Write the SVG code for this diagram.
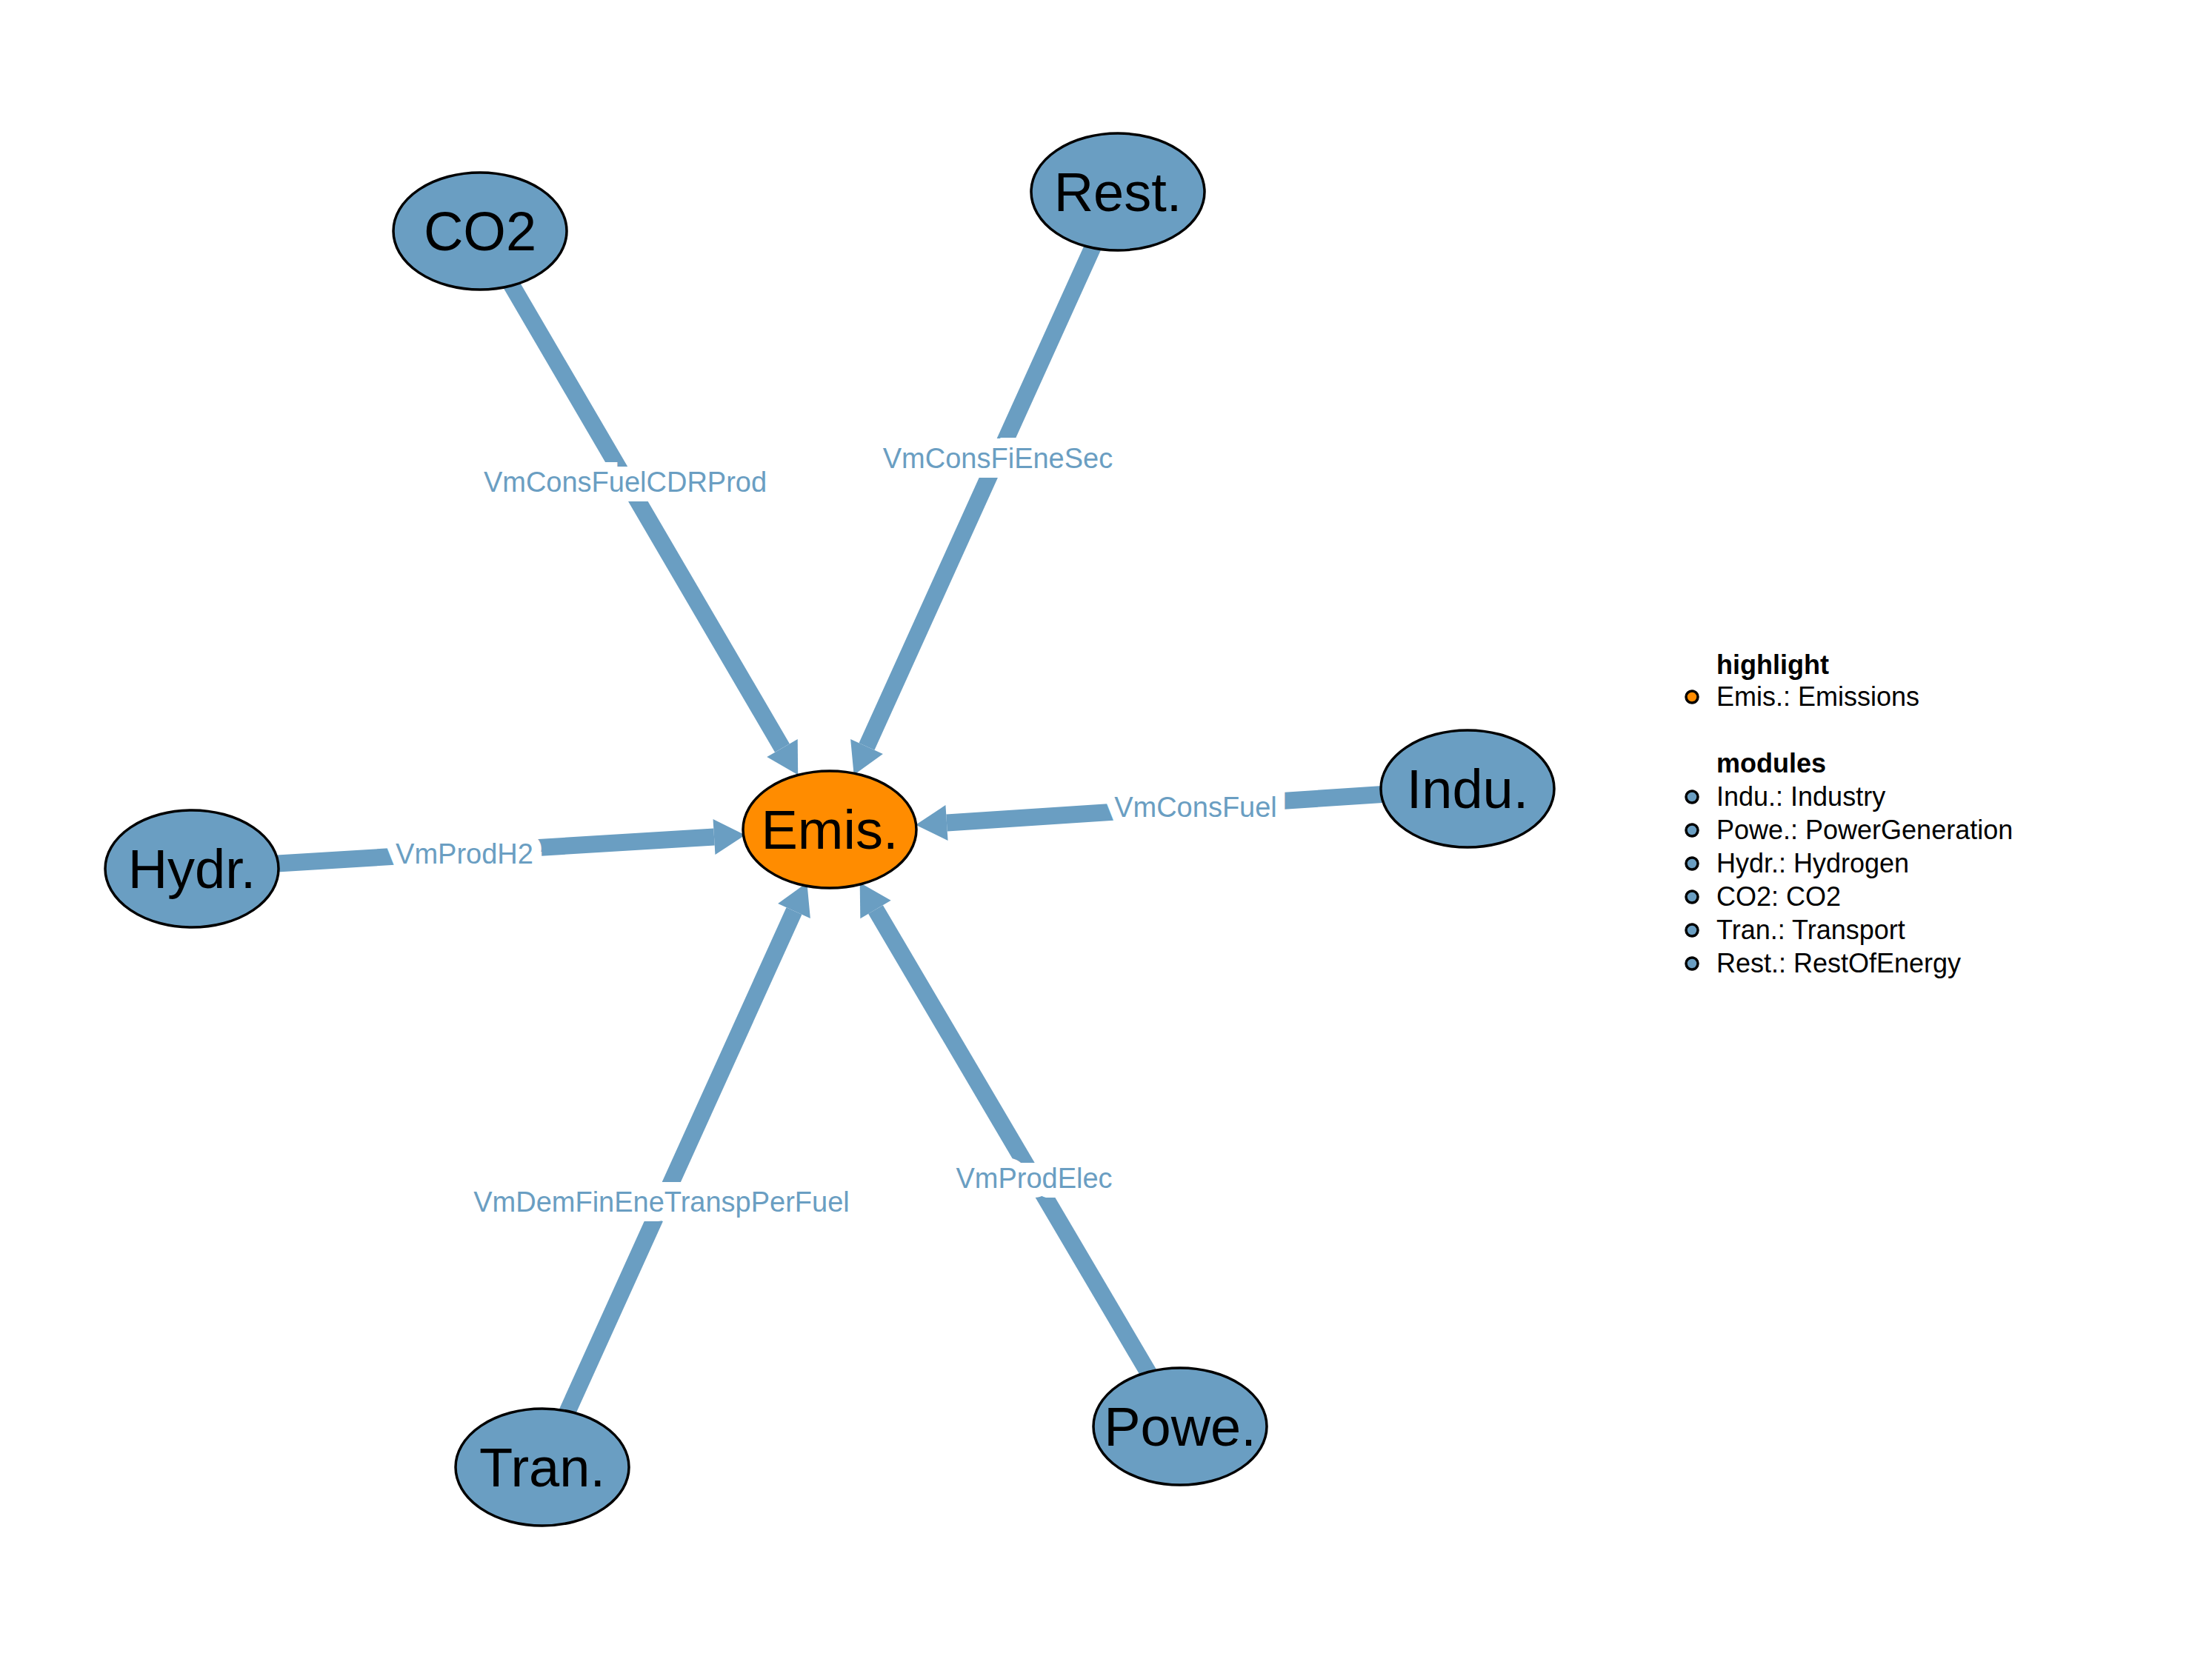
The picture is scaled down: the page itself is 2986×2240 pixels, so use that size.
<svg xmlns="http://www.w3.org/2000/svg" width="2986" height="2240" viewBox="0 0 2986 2240">
<style>
.e{stroke:#6a9ec2;stroke-width:23;fill:none;marker-end:url(#ah)}
.el{font-family:"Liberation Sans",Arial,sans-serif;font-size:38px;fill:#6a9ec2;text-anchor:middle;stroke:#fff;stroke-width:26px;paint-order:stroke}
.n{fill:#6a9ec2;stroke:#000;stroke-width:3.5}
.h{fill:#ff8c00;stroke:#000;stroke-width:3.5}
.nt{font-family:"Liberation Sans",Arial,sans-serif;font-size:74px;fill:#000;text-anchor:middle}
.lg{font-family:"Liberation Sans",Arial,sans-serif;font-size:36px;fill:#000}
.lb{font-weight:bold}
.d{stroke:#000;stroke-width:3.5}
</style>
<defs>
<marker id="ah" markerUnits="userSpaceOnUse" markerWidth="42" markerHeight="50" refX="0" refY="24" orient="auto" overflow="visible">
<path d="M0,0 L42,24 L0,48 z" fill="#6a9ec2"/>
</marker>
</defs>
<rect width="2986" height="2240" fill="#fff"/>
<g id="connectors">
<line class="e" x1="648" y1="312" x2="1056" y2="1010"/>
<line class="e" x1="1509" y1="259" x2="1170" y2="1008"/>
<line class="e" x1="1981" y1="1065" x2="1278" y2="1111"/>
<line class="e" x1="259" y1="1173" x2="964" y2="1130"/>
<line class="e" x1="732" y1="1981" x2="1072" y2="1230"/>
<line class="e" x1="1593" y1="1926" x2="1182" y2="1228"/>
<text class="el" x="844" y="664">VmConsFuelCDRProd</text>
<text class="el" x="1347" y="632">VmConsFiEneSec</text>
<text class="el" x="1614" y="1103">VmConsFuel</text>
<text class="el" x="627" y="1166">VmProdH2</text>
<text class="el" x="893" y="1636">VmDemFinEneTranspPerFuel</text>
<text class="el" x="1396" y="1604">VmProdElec</text>
</g>
<g id="node-emis"><ellipse class="h" cx="1120" cy="1120" rx="117" ry="79"/><text class="nt" x="1120" y="1146">Emis.</text></g>
<g id="node-co2"><ellipse class="n" cx="648" cy="312" rx="117" ry="79"/><text class="nt" x="648" y="338">CO2</text></g>
<g id="node-rest"><ellipse class="n" cx="1509" cy="259" rx="117" ry="79"/><text class="nt" x="1509" y="285">Rest.</text></g>
<g id="node-indu"><ellipse class="n" cx="1981" cy="1065" rx="117" ry="79"/><text class="nt" x="1981" y="1091">Indu.</text></g>
<g id="node-hydr"><ellipse class="n" cx="259" cy="1173" rx="117" ry="79"/><text class="nt" x="259" y="1199">Hydr.</text></g>
<g id="node-tran"><ellipse class="n" cx="732" cy="1981" rx="117" ry="79"/><text class="nt" x="732" y="2007">Tran.</text></g>
<g id="node-powe"><ellipse class="n" cx="1593" cy="1926" rx="117" ry="79"/><text class="nt" x="1593" y="1952">Powe.</text></g>
<g id="legend">
<text class="lg lb" x="2317" y="910">highlight</text>
<circle class="d" cx="2284" cy="941" r="8" fill="#ff8c00"/><text class="lg" x="2317" y="953">Emis.: Emissions</text>
<text class="lg lb" x="2317" y="1043">modules</text>
<circle class="d" cx="2284" cy="1076" r="8" fill="#6a9ec2"/><text class="lg" x="2317" y="1088">Indu.: Industry</text>
<circle class="d" cx="2284" cy="1121" r="8" fill="#6a9ec2"/><text class="lg" x="2317" y="1133">Powe.: PowerGeneration</text>
<circle class="d" cx="2284" cy="1166" r="8" fill="#6a9ec2"/><text class="lg" x="2317" y="1178">Hydr.: Hydrogen</text>
<circle class="d" cx="2284" cy="1211" r="8" fill="#6a9ec2"/><text class="lg" x="2317" y="1223">CO2: CO2</text>
<circle class="d" cx="2284" cy="1256" r="8" fill="#6a9ec2"/><text class="lg" x="2317" y="1268">Tran.: Transport</text>
<circle class="d" cx="2284" cy="1301" r="8" fill="#6a9ec2"/><text class="lg" x="2317" y="1313">Rest.: RestOfEnergy</text>
</g>
</svg>
